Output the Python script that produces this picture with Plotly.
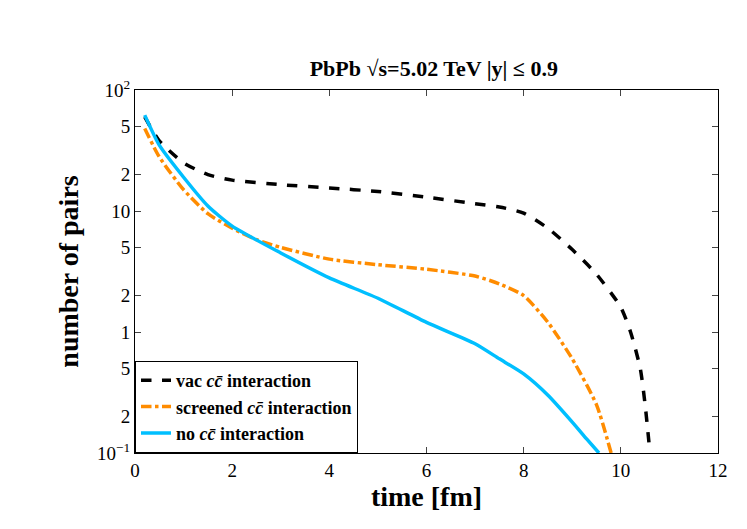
import plotly.graph_objects as go

t_vac = [0.2, 0.5, 1, 1.5, 2, 3, 4, 5, 6, 7, 7.5, 8, 8.5, 9, 9.5, 10, 10.2, 10.4, 10.5, 10.6]
n_vac = [60, 38, 25, 20, 18, 16.5, 15.5, 14.5, 13, 11.5, 10.8, 9.6, 7.2, 4.8, 3.0, 1.6, 1.0, 0.5, 0.25, 0.1]

t_scr = [0.2, 0.5, 1, 1.5, 2, 2.5, 3, 4, 5, 6, 7, 7.5, 8, 8.5, 9, 9.5, 9.8]
n_scr = [48, 28, 15, 9.5, 7.2, 5.8, 5.0, 4.0, 3.6, 3.3, 2.9, 2.5, 2.0, 1.2, 0.6, 0.25, 0.1]

t_no = [0.2, 0.5, 1, 1.5, 2, 3, 4, 5, 6, 7, 7.5, 8, 8.5, 9, 9.3, 9.55]
n_no = [62, 35, 19, 11, 7.5, 4.5, 2.8, 1.9, 1.2, 0.8, 0.6, 0.45, 0.3, 0.18, 0.13, 0.1]

ytick_vals = [0.1, 0.2, 0.5, 1, 2, 5, 10, 20, 50, 100]
ytick_text = ["10<sup>−1</sup>", "2", "5", "1", "2", "5", "10", "2", "5", "10<sup>2</sup>"]

serif = "Liberation Serif"
fig = go.Figure()
fig.add_trace(go.Scatter(x=t_vac, y=n_vac, mode="lines", name="<b>vac <i>cc̄</i> interaction</b>",
                         line=dict(color="black", width=3.5, dash="dash", shape="spline", smoothing=0.6)))
fig.add_trace(go.Scatter(x=t_scr, y=n_scr, mode="lines", name="<b>screened <i>cc̄</i> interaction</b>",
                         line=dict(color="#ff8c00", width=3.5, dash="dashdot", shape="spline", smoothing=0.6)))
fig.add_trace(go.Scatter(x=t_no, y=n_no, mode="lines", name="<b>no <i>cc̄</i> interaction</b>",
                         line=dict(color="#00bfff", width=3.5, shape="spline", smoothing=0.6)))

fig.update_layout(
    width=747, height=529,
    plot_bgcolor="white", paper_bgcolor="white",
    margin=dict(l=127, r=37, t=82, b=84),
    font=dict(family=serif, color="black", size=18),
    title=dict(text="<b>PbPb √s=5.02 TeV |y| ≤ 0.9</b>", x=0.57, y=0.9, xanchor="center",
               font=dict(size=22)),
    legend=dict(x=0.0, y=0.0, xanchor="left", yanchor="bottom", bordercolor="black", borderwidth=1,
                bgcolor="white", font=dict(size=18)),
    showlegend=True,
)
fig.update_xaxes(range=[0, 12], tickvals=[0, 2, 4, 6, 8, 10, 12], ticks="inside", ticklen=6,
                 showline=True, mirror="ticks", linecolor="black", showgrid=False, zeroline=False,
                 title=dict(text="<b>time [fm]</b>", font=dict(size=28), standoff=6),
                 tickfont=dict(size=19))
fig.update_yaxes(type="log", range=[-1, 2], tickvals=ytick_vals, ticktext=ytick_text,
                 ticks="inside", ticklen=6, showline=True, mirror="ticks", linecolor="black",
                 showgrid=False, zeroline=False,
                 title=dict(text="<b>number of pairs</b>", font=dict(size=28), standoff=10),
                 tickfont=dict(size=19))
fig.write_html("out.html")
